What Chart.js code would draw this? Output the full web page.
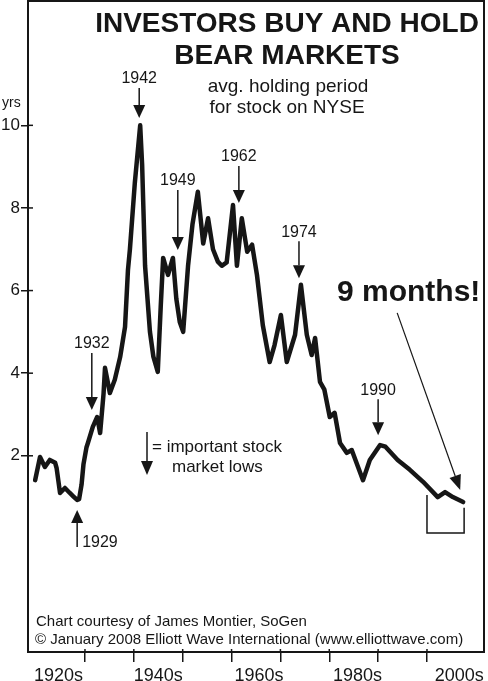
<!DOCTYPE html>
<html>
<head>
<meta charset="utf-8">
<script src="https://cdn.jsdelivr.net/npm/chart.js@4"></script>
<style>
  html, body { margin: 0; padding: 0; background: #fff; }
</style>
</head>
<body>
<canvas id="myChart" width="488" height="681"></canvas>
<script>
// avg. holding period for stock on NYSE (years)
const years = [
  1919.8, 1920.8, 1921.8, 1922.8, 1923.9, 1924.2, 1924.9, 1925.9, 1926.9, 1927.6,
  1928.4, 1928.8, 1929.3, 1929.7, 1930.3, 1930.6, 1931.6, 1932.5, 1933.1, 1933.8,
  1934.1, 1935.1, 1936.1, 1937.2, 1938.2, 1938.8, 1939.2, 1940.2, 1941.3, 1941.7,
  1942.3, 1943.3, 1944.0, 1944.9, 1945.5, 1946.0, 1947.0, 1948.0, 1948.7, 1949.4,
  1950.1, 1951.1, 1952.0, 1953.1, 1954.2, 1955.2, 1956.2, 1957.2, 1958.0, 1959.0,
  1960.3, 1961.1, 1962.1, 1963.2, 1964.2, 1965.2, 1966.4, 1967.8, 1968.8, 1970.1,
  1971.3, 1973.0, 1974.2, 1975.4, 1976.4, 1977.1, 1978.1, 1979.0, 1980.1, 1981.1,
  1982.2, 1983.6, 1984.6, 1986.9, 1988.3, 1990.4, 1991.5, 1994.0, 1996.5, 1999.2,
  2002.2, 2003.7, 2005.3, 2007.4
];
const holdingYrs = [
  1.41, 1.97, 1.73, 1.90, 1.83, 1.70, 1.10, 1.22, 1.10, 1.02,
  0.93, 0.95, 1.30, 1.80, 2.20, 2.31, 2.70, 2.94, 2.55, 3.50,
  4.13, 3.52, 3.84, 4.39, 5.12, 6.50, 7.00, 8.60, 10.0, 9.04,
  6.60, 5.00, 4.40, 4.03, 5.60, 6.79, 6.38, 6.79, 5.80, 5.24,
  5.00, 6.60, 7.60, 8.39, 7.14, 7.75, 7.00, 6.70, 6.60, 6.68,
  8.07, 6.60, 7.75, 6.94, 7.11, 6.38, 5.16, 4.27, 4.68, 5.41,
  4.27, 4.93, 6.14, 4.93, 4.44, 4.85, 3.79, 3.60, 2.94, 3.04,
  2.31, 2.07, 2.14, 1.41, 1.90, 2.26, 2.22, 1.90, 1.66, 1.37,
  1.00, 1.12, 1.00, 0.88
];

const yTicks = [2, 4, 6, 8, 10];
const decadeTicks = [1930, 1940, 1950, 1960, 1970, 1980, 1990, 2000];
const decadeLabelYears = [1924.6, 1945, 1965.6, 1985.8, 2006.6];
const decadeLabels = ['1920s', '1940s', '1960s', '1980s', '2000s'];

// market-low arrows: label, year and value the arrow tip points at
const lowLabels = ['1942', '1949', '1962', '1974', '1990', '1932'];
const lowYears  = [1941.1, 1949.0, 1961.5, 1973.8, 1990.0, 1931.4];
const lowTips   = [10.18, 6.98, 8.12, 6.30, 2.50, 3.11];
const lowLens   = [30, 60, 37, 37, 36, 57];

const INK = '#161616';
const FONT = '"Liberation Sans", Arial, Helvetica, sans-serif';

function arrow(ctx, x1, y1, x2, y2, head, half) {
  const ang = Math.atan2(y2 - y1, x2 - x1);
  const bx = x2 - head * Math.cos(ang), by = y2 - head * Math.sin(ang);
  ctx.beginPath();
  ctx.moveTo(x1, y1);
  ctx.lineTo(bx, by);
  ctx.stroke();
  ctx.beginPath();
  ctx.moveTo(x2, y2);
  ctx.lineTo(bx + half * Math.sin(ang), by - half * Math.cos(ang));
  ctx.lineTo(bx - half * Math.sin(ang), by + half * Math.cos(ang));
  ctx.closePath();
  ctx.fill();
}

function text(ctx, s, x, y, size, bold, align) {
  ctx.font = (bold ? 'bold ' : '') + size + 'px ' + FONT;
  ctx.textAlign = align || 'center';
  ctx.textBaseline = 'middle';
  ctx.fillText(s, x, y);
}

const framePlugin = {
  id: 'frame',
  afterDraw(chart) {
    const ctx = chart.ctx, a = chart.chartArea;
    const xs = chart.scales.x, ys = chart.scales.y;
    ctx.save();
    ctx.strokeStyle = INK;
    ctx.fillStyle = INK;

    // box round the plot
    ctx.lineWidth = 2;
    ctx.strokeRect(a.left, a.top, a.right - a.left, a.bottom - a.top);

    // tick marks reaching inside the box
    ctx.lineWidth = 1.5;
    yTicks.forEach(v => {
      const y = ys.getPixelForValue(v);
      ctx.beginPath(); ctx.moveTo(a.left, y); ctx.lineTo(a.left + 5, y); ctx.stroke();
    });
    decadeTicks.forEach(v => {
      const x = xs.getPixelForValue(v);
      ctx.beginPath(); ctx.moveTo(x, a.bottom); ctx.lineTo(x, a.bottom - 3); ctx.stroke();
    });

    // titles
    text(ctx, 'INVESTORS BUY AND HOLD', 287, 24, 28, true);
    text(ctx, 'BEAR MARKETS', 287, 56, 28, true);
    text(ctx, 'avg. holding period', 288, 87, 19, false);
    text(ctx, 'for stock on NYSE', 287, 108, 19, false);
    text(ctx, 'yrs', 2, 103, 14, false, 'left');

    // low arrows
    ctx.lineWidth = 1.5;
    lowLabels.forEach((lab, i) => {
      const x = xs.getPixelForValue(lowYears[i]);
      const tip = ys.getPixelForValue(lowTips[i]);
      const top = tip - lowLens[i];
      arrow(ctx, x, top, x, tip, 13, 6);
      text(ctx, lab, x, top - 9, 16, false);
    });

    // 1929 low, arrow from below
    const x29 = xs.getPixelForValue(1928.4), tip29 = ys.getPixelForValue(0.69);
    arrow(ctx, x29, tip29 + 37, x29, tip29, 13, 6);
    text(ctx, '1929', x29 + 5, tip29 + 33, 16, false, 'left');

    // legend key
    arrow(ctx, 147, 432, 147, 475, 14, 6);
    text(ctx, '= important stock', 152, 447, 17, false, 'left');
    text(ctx, 'market lows', 172, 467, 17, false, 'left');

    // 9 months
    text(ctx, '9 months!', 337, 293, 30, true, 'left');
    ctx.lineWidth = 1.2;
    arrow(ctx, xs.getPixelForValue(1993.9), ys.getPixelForValue(5.46),
          xs.getPixelForValue(2006.8), ys.getPixelForValue(1.17), 15, 6);

    // bracket under the last years
    ctx.lineWidth = 1.5;
    ctx.beginPath();
    ctx.moveTo(xs.getPixelForValue(2000.0), ys.getPixelForValue(1.05));
    ctx.lineTo(xs.getPixelForValue(2000.0), ys.getPixelForValue(0.13));
    ctx.lineTo(xs.getPixelForValue(2007.6), ys.getPixelForValue(0.13));
    ctx.lineTo(xs.getPixelForValue(2007.6), ys.getPixelForValue(0.74));
    ctx.stroke();

    // credits
    text(ctx, 'Chart courtesy of James Montier, SoGen', 36, 622, 15, false, 'left');
    text(ctx, '\u00A9 January 2008 Elliott Wave International (www.elliottwave.com)', 35, 640, 15, false, 'left');
    ctx.restore();
  }
};

const ctx = document.getElementById('myChart').getContext('2d');
const myChart = new Chart(ctx, {
  type: 'line',
  data: {
    datasets: [{
      data: years.map((y, i) => ({ x: y, y: holdingYrs[i] })),
      borderColor: INK,
      borderWidth: 4.5,
      borderJoinStyle: 'round',
      borderCapStyle: 'round',
      pointRadius: 0,
      tension: 0,
      fill: false
    }]
  },
  options: {
    responsive: false,
    animation: false,
    devicePixelRatio: 1,
    layout: { padding: { top: 1, right: 4, left: 0, bottom: 0 } },
    plugins: { legend: { display: false }, tooltip: { enabled: false } },
    scales: {
      x: {
        type: 'linear',
        min: 1918.34,
        max: 2011.67,
        afterBuildTicks: s => {
          s.ticks = decadeLabelYears.concat(decadeTicks).sort((a, b) => a - b).map(v => ({ value: v }));
        },
        afterFit: s => { s.height = 29; s.paddingLeft = 0; s.paddingRight = 0; },
        border: { display: false },
        grid: {
          drawOnChartArea: false,
          tickLength: 10,
          lineWidth: 1.5,
          color: c => (c.tick && decadeTicks.includes(c.tick.value)) ? INK : 'rgba(0,0,0,0)'
        },
        ticks: {
          autoSkip: false,
          maxRotation: 0,
          padding: 3,
          color: INK,
          font: { family: FONT, size: 18 },
          callback: v => {
            const i = decadeLabelYears.indexOf(v);
            return i >= 0 ? decadeLabels[i] : '';
          }
        }
      },
      y: {
        min: -2.75,
        max: 13.01,
        afterBuildTicks: s => { s.ticks = yTicks.map(v => ({ value: v })); },
        afterFit: s => { s.width = 28; s.paddingTop = 0; s.paddingBottom = 0; },
        border: { display: false },
        grid: { drawOnChartArea: false, tickLength: 7, lineWidth: 1.5, color: INK },
        ticks: {
          padding: 1,
          color: INK,
          font: { family: FONT, size: 17 }
        }
      }
    }
  },
  plugins: [framePlugin]
});
</script>
</body>
</html>
